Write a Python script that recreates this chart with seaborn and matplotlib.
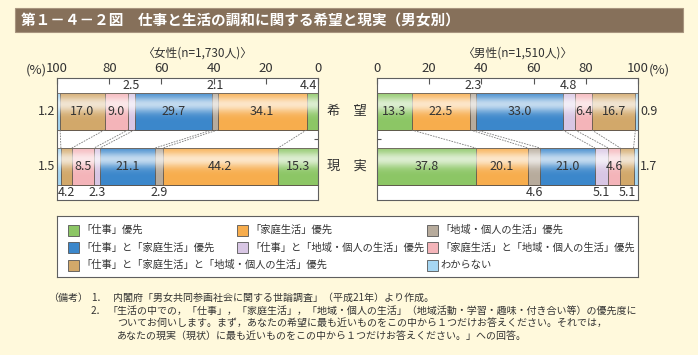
import numpy as np
import pandas as pd
import matplotlib
matplotlib.use('Agg')
import matplotlib.pyplot as plt
import matplotlib.transforms as mtransforms
from matplotlib.patches import Rectangle
import seaborn as sns

# ---- data ----
categories = [
    '「仕事」優先',
    '「家庭生活」優先',
    '「地域・個人の生活」優先',
    '「仕事」と「家庭生活」優先',
    '「仕事」と「地域・個人の生活」優先',
    '「家庭生活」と「地域・個人の生活」優先',
    '「仕事」と「家庭生活」と「地域・個人の生活」優先',
    'わからない',
]
rows = ['希望', '現実']
female_hope = [4.4, 34.1, 2.1, 29.7, 2.5, 9.0, 17.0, 1.2]
female_real = [15.3, 44.2, 2.9, 21.1, 2.3, 8.5, 4.2, 1.5]
male_hope = [13.3, 22.5, 2.3, 33.0, 4.8, 6.4, 16.7, 0.9]
male_real = [37.8, 20.1, 4.6, 21.0, 5.1, 4.6, 5.1, 1.7]
female_title = '〈女性(n=1,730人)〉'
male_title = '〈男性(n=1,510人)〉'
ticks = [0, 20, 40, 60, 80, 100]

colors = ['#8cc665', '#f7ad4d', '#b7ab9c', '#3b87cb',
          '#d8c6e4', '#f4b4b9', '#d2a86a', '#a6d6f2']

sns.set_theme(style='white')
plt.rcParams['font.family'] = ['Noto Sans CJK JP', 'DejaVu Sans']

BG = '#fff9dc'
TXT = '#333333'
EDGE = '#5c534a'
W, H = 698, 355
BAR_W = 37 / 55
YPAD = 33.5 / 55

fig = plt.figure(figsize=(W / 100, H / 100), dpi=100, facecolor=BG)


def fx(x):
    return x / W


def fy(y):
    return 1 - y / H


# title bar
fig.patches.append(Rectangle((fx(15), fy(32)), fx(668), 24 / H, transform=fig.transFigure,
                             facecolor='#86705a', edgecolor='#a8957f', lw=0.8))
fig.text(fx(21), fy(20), '第１－４－２図　仕事と生活の調和に関する希望と現実（男女別）',
         color='white', fontsize=10.5, fontweight='bold', va='center', ha='left')

# white gradient used to give the bars their shaded look
t = np.linspace(0, 1, 64)
grad = np.ones((64, 1, 4))
grad[:, 0, 3] = 0.7 * np.exp(-((t - 0.3) / 0.22) ** 2)


def draw_panel(ax, hope, real, reverse, inside_keep=()):
    df = pd.DataFrame({
        'row': np.repeat(rows, len(categories)),
        'cat': categories * 2,
        'value': hope + real,
    })
    df['cum'] = df.groupby('row', sort=False)['value'].cumsum()
    # stacked bars: overlay cumulative totals, biggest first
    for i in reversed(range(len(categories))):
        sub = df[df['cat'] == categories[i]]
        sns.barplot(data=sub, x='cum', y='row', order=rows, color=colors[i],
                    width=BAR_W, saturation=1, edgecolor=EDGE, linewidth=0.6,
                    errorbar=None, orient='h', ax=ax)
    for c in range(2):
        ax.imshow(grad, extent=(0, 100, c + BAR_W / 2, c - BAR_W / 2), aspect='auto',
                  zorder=1.5, interpolation='bilinear')

    # dashed connectors between boundaries
    bh = np.cumsum(hope)[:-1]
    br = np.cumsum(real)[:-1]
    for a, b in zip(bh, br):
        ax.plot([a, b], [BAR_W / 2, 1 - BAR_W / 2], color='#7a7a7a', lw=0.6,
                ls=(0, (2, 1.3)), zorder=1)

    # value labels
    above = (-YPAD - BAR_W / 2) / 2
    below = (1 + YPAD + 1 + BAR_W / 2) / 2
    side = mtransforms.blended_transform_factory(ax.transAxes, ax.transData)
    for r, vals in enumerate([hope, real]):
        cum = np.cumsum(vals)
        for i, v in enumerate(vals):
            mid = cum[i] - v / 2
            s = f'{v:.1f}'
            if i == len(vals) - 1:
                if reverse:
                    ax.text(-0.008, r, s, transform=side, ha='right', va='center',
                            fontsize=9, color=TXT)
                else:
                    ax.text(1.008, r, s, transform=side, ha='left', va='center',
                            fontsize=9, color=TXT)
            elif v < 5.5 and (r, i) not in inside_keep:
                y = above if r == 0 else below
                ha = 'center'
                x = mid
                if mid < 3:
                    x, ha = 0.3, ('right' if reverse else 'left')
                ax.text(x, y, s, ha=ha, va='center', fontsize=9, color=TXT, zorder=3)
            else:
                ax.text(mid, r, s, ha='center', va='center', fontsize=9, color=TXT, zorder=3)

    ax.set_facecolor('white')
    ax.set_xlim((100, 0) if reverse else (0, 100))
    ax.set_ylim(1 + YPAD, -YPAD)
    ax.set_xlabel('')
    ax.set_ylabel('')
    ax.xaxis.tick_top()
    ax.set_xticks(ticks)
    ax.set_xticklabels([str(v) for v in ticks])
    ax.tick_params(axis='x', direction='in', length=4, width=0.8, color='#555555',
                   top=True, bottom=False, labeltop=True, labelbottom=False,
                   pad=2, labelsize=9.5, labelcolor=TXT)
    ax.set_yticks([0.5])
    ax.set_yticklabels([])
    if reverse:
        ax.yaxis.tick_right()
    else:
        ax.yaxis.tick_left()
    ax.tick_params(axis='y', direction='in', length=3, width=0.8, color='#555555')
    for sp in ax.spines.values():
        sp.set_visible(True)
        sp.set_color('#5f5f5f')
        sp.set_linewidth(0.8)


axL = fig.add_axes([fx(57), fy(200), 261 / W, 122 / H])
axR = fig.add_axes([fx(377), fy(200), 261 / W, 122 / H])
draw_panel(axL, female_hope, female_real, reverse=True)
draw_panel(axR, male_hope, male_real, reverse=False, inside_keep={(1, 5)})

fig.text(fx(197), fy(53), female_title, ha='center', va='center', fontsize=8.5, color=TXT)
fig.text(fx(517), fy(53), male_title, ha='center', va='center', fontsize=8.5, color=TXT)
fig.text(fx(47), fy(70), '(%)', ha='right', va='center', fontsize=9.5, color=TXT)
fig.text(fx(649), fy(70), '(%)', ha='left', va='center', fontsize=9.5, color=TXT)
for r, y in zip(rows, [111.5, 166.5]):
    fig.text(fx(347), fy(y), r[0] + '　' + r[1], ha='center', va='center',
             fontsize=9.5, color=TXT)

# legend box
lg = fig.add_axes([fx(57), fy(277), 581 / W, 61 / H])
lg.set_xlim(57, 638)
lg.set_ylim(277, 216)
lg.set_facecolor('white')
lg.set_xticks([])
lg.set_yticks([])
for sp in lg.spines.values():
    sp.set_visible(True)
    sp.set_color('#5f5f5f')
    sp.set_linewidth(0.8)
col_x = [68, 237, 427]
row_y = [230, 247.5, 265]
slots = [(0, 0), (1, 0), (2, 0), (0, 1), (1, 1), (2, 1), (0, 2), (2, 2)]
for name, colr, (cx, ry) in zip(categories, colors, slots):
    x0, y0 = col_x[cx], row_y[ry]
    lg.add_patch(Rectangle((x0, y0 - 5.5), 11, 11, facecolor=colr, edgecolor='#555555', lw=0.6))
    lg.text(x0 + 13, y0, name, ha='left', va='center', fontsize=7.4, color=TXT)

# notes
NS = 7.2
fig.text(fx(48), fy(298), '（備考）', ha='left', va='center', fontsize=NS, color=TXT)
fig.text(fx(91), fy(298), '1．', ha='left', va='center', fontsize=NS, color=TXT)
fig.text(fx(113), fy(298), '内閣府「男女共同参画社会に関する世論調査」（平成21年）より作成。',
         ha='left', va='center', fontsize=NS, color=TXT)
fig.text(fx(91), fy(311), '2．', ha='left', va='center', fontsize=NS, color=TXT)
fig.text(fx(108), fy(311),
         '「生活の中での，「仕事」，「家庭生活」，「地域・個人の生活」（地域活動・学習・趣味・付き合い等）の優先度に',
         ha='left', va='center', fontsize=NS, color=TXT)
fig.text(fx(117), fy(323),
         'ついてお伺いします。まず，あなたの希望に最も近いものをこの中から１つだけお答えください。それでは，',
         ha='left', va='center', fontsize=NS, color=TXT)
fig.text(fx(117), fy(336),
         'あなたの現実（現状）に最も近いものをこの中から１つだけお答えください。」への回答。',
         ha='left', va='center', fontsize=NS, color=TXT)

fig.savefig('out.png', dpi=100, facecolor=BG)
